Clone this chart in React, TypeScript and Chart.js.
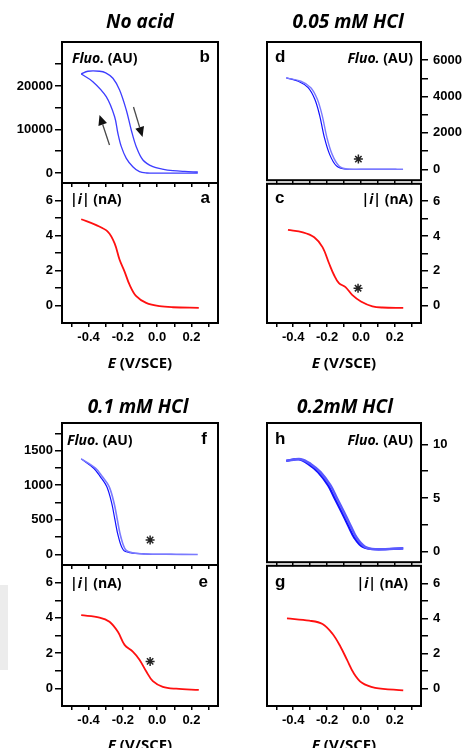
import React, { useEffect, useRef } from 'react';
import { Chart, registerables } from 'chart.js';
Chart.register(...registerables);

// ---------- shared axes ----------
const X_MIN = -0.555;
const X_MAX = 0.355;
const X_TICKS = [-0.5, -0.4, -0.3, -0.2, -0.1, 0, 0.1, 0.2, 0.3];
const X_LABELED = [-0.4, -0.2, 0, 0.2];

const I_MIN = -1;
const I_MAX = 7;
const I_TICKS = [0, 1, 2, 3, 4, 5, 6];
const I_LABELED = [0, 2, 4, 6];

// ---------- No acid ----------
const B_FWD_E = [-0.443, -0.404, -0.336, -0.3, -0.258, -0.219, -0.18, -0.151, -0.122, -0.083, -0.025, 0.03, 0.092, 0.16, 0.237];
const B_FWD_F = [22760, 23380, 23380, 23000, 21770, 19080, 14480, 9885, 6050, 2990, 1450, 900, 530, 350, 230];
const B_REV_E = [0.237, 0.1, 0.0, -0.06, -0.103, -0.142, -0.18, -0.209, -0.229, -0.248, -0.297, -0.375, -0.443];
const B_REV_F = [0, -20, -50, 0, 300, 1450, 3370, 6050, 9130, 12940, 17540, 20990, 22760];
const B_MIN = -2300;
const B_MAX = 30100;
const B_TICKS = [0, 5000, 10000, 15000, 20000, 25000];
const B_LABELED = [0, 10000, 20000];
const B_ARROW_UP_E = [-0.278, -0.336];
const B_ARROW_UP_F = [6440, 13330];
const B_ARROW_DN_E = [-0.138, -0.085];
const B_ARROW_DN_F = [15170, 8280];

const A_E = [-0.443, -0.355, -0.287, -0.248, -0.219, -0.19, -0.161, -0.122, -0.064, 0.014, 0.092, 0.243];
const A_I = [4.93, 4.59, 4.21, 3.55, 2.61, 1.94, 1.19, 0.53, 0.15, -0.04, -0.1, -0.13];

// ---------- 0.05 mM HCl ----------
const D_DARK_E = [-0.441, -0.37, -0.312, -0.273, -0.244, -0.215, -0.185, -0.146, -0.098, -0.01, 0.1, 0.21];
const D_LIGHT_E = [-0.441, -0.355, -0.296, -0.258, -0.229, -0.2, -0.17, -0.131, -0.083, 0.0, 0.1, 0.249];
const D_F = [5024, 4842, 4488, 3860, 2965, 1716, 820, 198, 16, 0, 0, 0];
const D_MIN = -600;
const D_MAX = 7000;
const D_TICKS = [0, 1000, 2000, 3000, 4000, 5000, 6000];
const D_LABELED = [0, 2000, 4000, 6000];
const D_STAR_E = [-0.015];
const D_STAR_F = [560];

const C_E = [-0.431, -0.343, -0.276, -0.227, -0.188, -0.159, -0.13, -0.091, -0.052, 0.0, 0.068, 0.126, 0.25];
const C_I = [4.35, 4.21, 3.93, 3.36, 2.42, 1.76, 1.29, 1.06, 0.62, 0.24, -0.04, -0.11, -0.13];
const C_STAR_E = [-0.017];
const C_STAR_I = [1.0];

// ---------- 0.1 mM HCl ----------
const F_DARK_E = [-0.443, -0.37, -0.332, -0.294, -0.265, -0.246, -0.226, -0.197, -0.158, -0.07, 0.05, 0.111];
const F_LIGHT_E = [-0.443, -0.36, -0.32, -0.28, -0.251, -0.232, -0.212, -0.183, -0.144, -0.06, 0.05, 0.237];
const F_F = [1381, 1246, 1125, 980, 739, 497, 255, 62, 23, 4, 0, -3];
const F_MIN = -155;
const F_MAX = 1900;
const F_TICKS = [0, 250, 500, 750, 1000, 1250, 1500, 1750];
const F_LABELED = [0, 500, 1000, 1500];
const F_STAR_E = [-0.041];
const F_STAR_F = [207];

const E_E = [-0.443, -0.336, -0.278, -0.229, -0.19, -0.142, -0.103, -0.064, -0.025, 0.033, 0.111, 0.243];
const E_I = [4.15, 4.02, 3.78, 3.21, 2.47, 2.09, 1.63, 0.97, 0.41, 0.09, -0.02, -0.09];
const E_STAR_E = [-0.041];
const E_STAR_I = [1.53];

// ---------- 0.2 mM HCl ----------
const H_FWD_E = [-0.441, -0.369, -0.311, -0.253, -0.194, -0.155, -0.116, -0.078, -0.039, 0.01, 0.084, 0.25];
const H_REV_E = [-0.441, -0.355, -0.297, -0.239, -0.18, -0.141, -0.102, -0.064, -0.025, 0.024, 0.084, 0.25];
const H_F = [8.47, 8.62, 8.17, 7.4, 6.17, 4.95, 3.73, 2.5, 1.28, 0.43, 0.21, 0.3];
const H_MIN = -1;
const H_MAX = 12;
const H_TICKS = [0, 2.5, 5, 7.5, 10];
const H_LABELED = [0, 5, 10];

const G_E = [-0.437, -0.305, -0.227, -0.168, -0.12, -0.082, -0.043, 0.006, 0.084, 0.25];
const G_I = [4.0, 3.87, 3.68, 3.12, 2.37, 1.63, 0.88, 0.32, 0.04, -0.11];

// ---------- helpers ----------
const TICK_FONT = '"Liberation Sans", Arial, sans-serif';
const TEXT_FONT = '"Open Sans", Lato, sans-serif';

const pts = (xs: number[], ys: number[]) => xs.map((x, i) => ({ x, y: ys[i] }));

const line = (xs: number[], ys: number[], color: string, width: number) => ({
  data: pts(xs, ys),
  showLine: true,
  borderColor: color,
  backgroundColor: color,
  borderWidth: width,
  pointRadius: 0,
  tension: 0.35,
  fill: false,
});

const star = (xs: number[], ys: number[]) => ({
  data: pts(xs, ys),
  showLine: false,
  pointStyle: 'star',
  pointRadius: 4.5,
  borderColor: '#222',
  backgroundColor: '#222',
  borderWidth: 1.5,
});

const fmtX = (v: number) => (Math.abs(v) < 1e-9 ? '0.0' : v.toFixed(1));

const framePlugin = {
  id: 'frame',
  afterDraw(chart: any) {
    const { ctx, chartArea: a } = chart;
    ctx.save();
    ctx.strokeStyle = '#000';
    ctx.lineWidth = 2;
    ctx.strokeRect(a.left, a.top, a.right - a.left, a.bottom - a.top);
    ctx.restore();
  },
};

const arrowPlugin = {
  id: 'arrows',
  afterDatasetsDraw(chart: any, _args: any, opts: any) {
    const items = (opts && opts.items) || [];
    const { ctx } = chart;
    const xs = chart.scales.x;
    const ys = chart.scales.y;
    items.forEach((it: any) => {
      const x1 = xs.getPixelForValue(it.e[0]);
      const y1 = ys.getPixelForValue(it.v[0]);
      const x2 = xs.getPixelForValue(it.e[1]);
      const y2 = ys.getPixelForValue(it.v[1]);
      const ang = Math.atan2(y2 - y1, x2 - x1);
      const hl = 10;
      const hw = 4.5;
      const bx = x2 - hl * Math.cos(ang);
      const by = y2 - hl * Math.sin(ang);
      ctx.save();
      ctx.strokeStyle = '#4a4a4a';
      ctx.lineWidth = 1.3;
      ctx.beginPath();
      ctx.moveTo(x1, y1);
      ctx.lineTo(bx, by);
      ctx.stroke();
      ctx.fillStyle = '#111';
      ctx.beginPath();
      ctx.moveTo(x2, y2);
      ctx.lineTo(bx + hw * Math.sin(ang), by - hw * Math.cos(ang));
      ctx.lineTo(bx - hw * Math.sin(ang), by + hw * Math.cos(ang));
      ctx.closePath();
      ctx.fill();
      ctx.restore();
    });
  },
};

type Spec = {
  cx: number; cy: number; w: number; h: number;
  plot: { left: number; top: number; right: number; bottom: number };
  yPos: 'left' | 'right';
  showX: boolean;
  yMin: number; yMax: number; yTicks: number[]; yLabeled: number[];
  datasets: any[];
  arrows?: any[];
};

function buildConfig(s: Spec): any {
  const yRight = s.yPos === 'right';
  const padTop = s.plot.top - s.cy;
  const xH = s.cy + s.h - s.plot.bottom;
  const yW = yRight ? s.cx + s.w - s.plot.right : s.plot.left - s.cx;
  const xGrid = {
    display: true,
    drawOnChartArea: false,
    drawTicks: true,
    tickLength: 4,
    color: '#000',
    lineWidth: 1.5,
  };
  const yGrid = { ...xGrid, tickLength: 7 };
  const tickFont = { family: TICK_FONT, size: 13, weight: 'bold' };
  return {
    type: 'scatter',
    data: { datasets: s.datasets },
    options: {
      responsive: false,
      maintainAspectRatio: false,
      animation: false,
      devicePixelRatio: 1,
      layout: {
        padding: {
          top: padTop,
          bottom: 0,
          left: yRight ? s.plot.left - s.cx : 0,
          right: yRight ? 0 : s.cx + s.w - s.plot.right,
        },
      },
      plugins: {
        legend: { display: false },
        tooltip: { enabled: false },
        title: { display: false },
        arrows: { items: s.arrows || [] },
      },
      scales: {
        x: {
          type: 'linear',
          position: 'bottom',
          min: X_MIN,
          max: X_MAX,
          afterBuildTicks: (sc: any) => { sc.ticks = X_TICKS.map((v) => ({ value: v })); },
          afterFit: (sc: any) => { sc.height = xH; },
          grid: xGrid,
          border: { display: false },
          ticks: {
            autoSkip: false,
            maxRotation: 0,
            minRotation: 0,
            padding: 3,
            color: '#000',
            font: tickFont,
            callback: (v: number) =>
              s.showX && X_LABELED.some((t) => Math.abs(t - v) < 1e-9) ? fmtX(v) : '',
          },
        },
        y: {
          type: 'linear',
          position: s.yPos,
          min: s.yMin,
          max: s.yMax,
          afterBuildTicks: (sc: any) => { sc.ticks = s.yTicks.map((v) => ({ value: v })); },
          afterFit: (sc: any) => { sc.width = yW; },
          grid: yGrid,
          border: { display: false },
          ticks: {
            autoSkip: false,
            padding: yRight ? 5 : 2,
            color: '#000',
            font: tickFont,
            callback: (v: number) => (s.yLabeled.indexOf(v) >= 0 ? String(v) : ''),
          },
        },
      },
    },
    plugins: [framePlugin, arrowPlugin],
  };
}

function Panel({ spec }: { spec: Spec }) {
  const ref = useRef<HTMLCanvasElement | null>(null);
  useEffect(() => {
    if (!ref.current) return;
    const chart = new Chart(ref.current, buildConfig(spec));
    return () => chart.destroy();
  }, []);
  return (
    <canvas
      ref={ref}
      width={spec.w}
      height={spec.h}
      style={{ position: 'absolute', left: spec.cx, top: spec.cy, width: spec.w, height: spec.h }}
    />
  );
}

function Txt(props: {
  x: number; y: number; anchor: 'left' | 'center' | 'right'; size: number;
  family?: string; italic?: boolean; children: any;
}) {
  const tx = props.anchor === 'left' ? '0' : props.anchor === 'center' ? '-50%' : '-100%';
  return (
    <div
      style={{
        position: 'absolute',
        left: props.x,
        top: props.y - 0.88 * props.size,
        transform: `translateX(${tx})`,
        fontFamily: props.family || TEXT_FONT,
        fontSize: props.size,
        lineHeight: `${props.size}px`,
        fontWeight: 'bold',
        fontStyle: props.italic ? 'italic' : 'normal',
        whiteSpace: 'nowrap',
        color: '#000',
      }}
    >
      {props.children}
    </div>
  );
}

const FluoLabel = () => (<><i>Fluo.</i> (AU)</>);
const CurLabel = () => (<>|<i>i</i>| (nA)</>);
const AxisTitle = () => (<><i>E</i> (V/SCE)</>);

// layout geometry
const L = { cx: 0, w: 232, left: 62, right: 218 };
const R = { cx: 240, w: 227, left: 267, right: 421 };
const G1 = { top: 42, mid: 183, bottom: 323 };
const G2 = { top: 423, mid: 565, bottom: 706 };

const topCanvas = (col: any, g: any) => ({ cx: col.cx, w: col.w, cy: g.top - 14, h: g.mid + 10 - (g.top - 14), plot: { left: col.left, right: col.right, top: g.top, bottom: g.mid } });
const botCanvas = (col: any, g: any) => ({ cx: col.cx, w: col.w, cy: g.mid - 12, h: g.bottom + 28 - (g.mid - 12), plot: { left: col.left, right: col.right, top: g.mid, bottom: g.bottom } });

const BLUE_B = '#3d3dff';
const BLUE_DARK = '#1010ff';
const BLUE_LIGHT = '#7a7aff';
const RED = '#ff1010';

const SPECS: Spec[] = [
  {
    ...topCanvas(L, G1), yPos: 'left', showX: false,
    yMin: B_MIN, yMax: B_MAX, yTicks: B_TICKS, yLabeled: B_LABELED,
    datasets: [line(B_FWD_E, B_FWD_F, BLUE_B, 1.3), line(B_REV_E, B_REV_F, BLUE_B, 1.3)],
    arrows: [{ e: B_ARROW_UP_E, v: B_ARROW_UP_F }, { e: B_ARROW_DN_E, v: B_ARROW_DN_F }],
  },
  {
    ...botCanvas(L, G1), yPos: 'left', showX: true,
    yMin: I_MIN, yMax: I_MAX, yTicks: I_TICKS, yLabeled: I_LABELED,
    datasets: [line(A_E, A_I, RED, 1.8)],
  },
  {
    ...topCanvas(R, G1), yPos: 'right', showX: false,
    yMin: D_MIN, yMax: D_MAX, yTicks: D_TICKS, yLabeled: D_LABELED,
    datasets: [line(D_LIGHT_E, D_F, BLUE_LIGHT, 1.4), line(D_DARK_E, D_F, BLUE_DARK, 1.2), star(D_STAR_E, D_STAR_F)],
  },
  {
    ...botCanvas(R, G1), yPos: 'right', showX: true,
    yMin: I_MIN, yMax: I_MAX, yTicks: I_TICKS, yLabeled: I_LABELED,
    datasets: [line(C_E, C_I, RED, 1.8), star(C_STAR_E, C_STAR_I)],
  },
  {
    ...topCanvas(L, G2), yPos: 'left', showX: false,
    yMin: F_MIN, yMax: F_MAX, yTicks: F_TICKS, yLabeled: F_LABELED,
    datasets: [line(F_LIGHT_E, F_F, BLUE_LIGHT, 1.6), line(F_DARK_E, F_F, BLUE_DARK, 1.2), star(F_STAR_E, F_STAR_F)],
  },
  {
    ...botCanvas(L, G2), yPos: 'left', showX: true,
    yMin: I_MIN, yMax: I_MAX, yTicks: I_TICKS, yLabeled: I_LABELED,
    datasets: [line(E_E, E_I, RED, 1.8), star(E_STAR_E, E_STAR_I)],
  },
  {
    ...topCanvas(R, G2), yPos: 'right', showX: false,
    yMin: H_MIN, yMax: H_MAX, yTicks: H_TICKS, yLabeled: H_LABELED,
    datasets: [line(H_REV_E, H_F, '#5a5aff', 2.6), line(H_FWD_E, H_F, BLUE_DARK, 2.2)],
  },
  {
    ...botCanvas(R, G2), yPos: 'right', showX: true,
    yMin: I_MIN, yMax: I_MAX, yTicks: I_TICKS, yLabeled: I_LABELED,
    datasets: [line(G_E, G_I, RED, 1.8)],
  },
];

const LETTER = TICK_FONT;

export default function App() {
  return (
    <div style={{ position: 'absolute', left: 0, top: 0, width: 467, height: 748, background: '#fff', overflow: 'hidden' }}>
      <div style={{ position: 'absolute', left: 0, top: 585, width: 8, height: 85, background: '#ececec' }} />
      {SPECS.map((s, i) => (<Panel key={i} spec={s} />))}

      <Txt x={140} y={29} anchor="center" size={19} italic>No acid</Txt>
      <Txt x={348} y={29} anchor="center" size={19} italic>0.05 mM HCl</Txt>
      <Txt x={138} y={414} anchor="center" size={19} italic>0.1 mM HCl</Txt>
      <Txt x={345} y={414} anchor="center" size={19} italic>0.2mM HCl</Txt>

      <Txt x={72} y={63} anchor="left" size={14}><FluoLabel /></Txt>
      <Txt x={210} y={63} anchor="right" size={17} family={LETTER}>b</Txt>
      <Txt x={70} y={204} anchor="left" size={14}><CurLabel /></Txt>
      <Txt x={210} y={204} anchor="right" size={17} family={LETTER}>a</Txt>

      <Txt x={275} y={63} anchor="left" size={17} family={LETTER}>d</Txt>
      <Txt x={413} y={63} anchor="right" size={14}><FluoLabel /></Txt>
      <Txt x={275} y={204} anchor="left" size={17} family={LETTER}>c</Txt>
      <Txt x={413} y={204} anchor="right" size={14}><CurLabel /></Txt>

      <Txt x={67} y={445} anchor="left" size={14}><FluoLabel /></Txt>
      <Txt x={207} y={445} anchor="right" size={17} family={LETTER}>f</Txt>
      <Txt x={70} y={588} anchor="left" size={14}><CurLabel /></Txt>
      <Txt x={208} y={588} anchor="right" size={17} family={LETTER}>e</Txt>

      <Txt x={275} y={445} anchor="left" size={17} family={LETTER}>h</Txt>
      <Txt x={413} y={445} anchor="right" size={14}><FluoLabel /></Txt>
      <Txt x={275} y={588} anchor="left" size={17} family={LETTER}>g</Txt>
      <Txt x={408} y={588} anchor="right" size={14}><CurLabel /></Txt>

      <Txt x={140} y={368} anchor="center" size={15}><AxisTitle /></Txt>
      <Txt x={344} y={368} anchor="center" size={15}><AxisTitle /></Txt>
      <Txt x={140} y={750} anchor="center" size={15}><AxisTitle /></Txt>
      <Txt x={344} y={750} anchor="center" size={15}><AxisTitle /></Txt>
    </div>
  );
}
